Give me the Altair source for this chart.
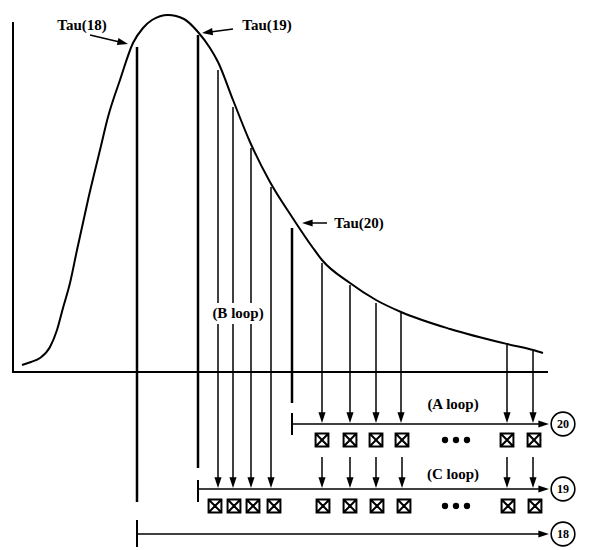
import math
import altair as alt
import pandas as pd

# ---- diagram data (coordinates of the drawing, y grows downward) ----
curve_x = [22, 31, 40, 50, 57, 63, 70, 77, 88, 100, 108, 120, 133, 143, 152, 168, 184,
           198, 210, 218, 233, 250, 270, 292, 313, 322, 350, 376, 401, 450, 507, 533, 543]
curve_y = [365, 362, 358, 347, 330, 308, 283, 250, 200, 150, 117, 80, 43, 28, 20, 15, 19,
           32, 48, 62, 100, 142, 182, 217, 248, 260, 283, 300, 312, 329, 344, 350, 353]

# plain strokes: x, y, x2, y2, width
line_x1 = [13, 13, 137, 198, 292, 137, 198, 292]
line_y1 = [22, 372, 47, 35, 228, 520, 480, 413]
line_x2 = [13, 548, 137, 198, 292, 137, 198, 292]
line_y2 = [373, 372, 502, 468, 403, 547, 502, 435]
line_w = [2, 2, 2.5, 2.5, 2.5, 2, 2, 2]

# arrows
b_loop_x = [218, 233, 251, 271]
b_loop_top = [70, 107, 148, 187]
a_loop_x = [322, 350, 376, 401, 507, 533]
a_loop_top = [263, 285, 303, 313, 345, 351]
c_loop_x = [322, 350, 376, 402, 507, 533]
level_y = [424, 489, 534]
level_start = [292, 198, 137]
level_names = ["20", "19", "18"]

tau_names = ["Tau(18)", "Tau(19)", "Tau(20)"]
tau_label_x = [82, 267, 359]
tau_label_y = [25, 25, 223]
tau_arrow = [(90, 35, 128, 44), (233, 29, 202, 33), (327, 223, 302, 223)]

loop_names = ["(B loop)", "(A loop)", "(C loop)"]
loop_x = [238, 453, 453]
loop_y = [313, 404, 474]

box_a_x = [322, 350, 376, 402, 507, 534]
box_c_x = [215, 234, 253, 274, 323, 350, 377, 404, 508, 535]
box_a_y = 440
box_c_y = 506
dot_x = [445, 456, 467]

# ---- build tables ----
arrows = []
for s in tau_arrow:
    arrows.append(s + (1.5,))
for x, t in zip(b_loop_x, b_loop_top):
    arrows.append((x, t, x, 488, 1.5))
for x, t in zip(a_loop_x, a_loop_top):
    arrows.append((x, t, x, 423, 1.5))
for x in c_loop_x:
    arrows.append((x, 457, x, 488, 1.5))
for y, s in zip(level_y, level_start):
    arrows.append((s, y, 549, y, 1.5))

HEAD = 140
head_len = 1.8 * math.sqrt(HEAD) / 2
seg_rows = [dict(x=a, y=b, x2=c, y2=d, w=w)
            for a, b, c, d, w in zip(line_x1, line_y1, line_x2, line_y2, line_w)]
head_rows = []
for x1, y1, x2, y2, w in arrows:
    dx, dy = x2 - x1, y2 - y1
    n = math.hypot(dx, dy)
    ex, ey = x2 - dx / n * head_len * 0.6, y2 - dy / n * head_len * 0.6
    seg_rows.append(dict(x=x1, y=y1, x2=ex, y2=ey, w=w))
    ang = math.degrees(math.atan2(-dx, dy)) % 360
    head_rows.append(dict(x=x2, y=y2, a=ang))

segs = pd.DataFrame(seg_rows)
heads = pd.DataFrame(head_rows)
curve = pd.DataFrame({"x": curve_x, "y": curve_y})
boxes = pd.DataFrame({"x": box_a_x + box_c_x,
                      "y": [box_a_y] * len(box_a_x) + [box_c_y] * len(box_c_x)})
dots = pd.DataFrame({"x": dot_x * 2, "y": [box_a_y] * 3 + [box_c_y] * 3})
circles = pd.DataFrame({"x": [563] * 3, "y": level_y, "t": level_names})
labels = pd.DataFrame({"x": tau_label_x + loop_x, "y": tau_label_y + loop_y,
                       "t": tau_names + loop_names})
mask = pd.DataFrame({"x": [211], "x2": [265], "y": [303], "y2": [324]})

XS = alt.Scale(domain=[8, 581], nice=False, zero=False)
YS = alt.Scale(domain=[8, 550], nice=False, zero=False, reverse=True)
X = alt.X("x:Q", scale=XS, axis=None)
Y = alt.Y("y:Q", scale=YS, axis=None)

curve_l = alt.Chart(curve).mark_line(interpolate="monotone", color="black",
                                     strokeWidth=2).encode(x=X, y=Y)
seg_l = alt.Chart(segs).mark_rule(color="black", strokeCap="butt").encode(
    x=X, y=Y, x2="x2:Q", y2="y2:Q",
    strokeWidth=alt.StrokeWidth("w:Q", scale=None))
mask_l = alt.Chart(mask).mark_rect(color="white").encode(x=X, y=Y, x2="x2:Q", y2="y2:Q")
head_l = alt.Chart(heads).mark_point(
    shape="M0,0L-0.6,-1.8L0.6,-1.8Z", filled=True, color="black", opacity=1,
    size=HEAD, strokeWidth=0).encode(x=X, y=Y, angle=alt.Angle("a:Q", scale=None))
box_l = alt.Chart(boxes).mark_point(
    shape="M-1,-1L1,-1L1,1L-1,1Z M-1,-1L1,1 M1,-1L-1,1", filled=False,
    color="black", opacity=1, size=165, strokeWidth=2).encode(x=X, y=Y)
dot_l = alt.Chart(dots).mark_circle(color="black", opacity=1, size=40).encode(x=X, y=Y)
circ_l = alt.Chart(circles).mark_point(shape="circle", filled=False, color="black",
                                       opacity=1, size=560, strokeWidth=1.6).encode(x=X, y=Y)
circ_t = alt.Chart(circles).mark_text(font="Liberation Serif", fontSize=12, fontWeight="bold",
                                      color="black", baseline="middle").encode(x=X, y=Y, text="t:N")
lab_l = alt.Chart(labels).mark_text(font="Liberation Serif", fontSize=15, fontWeight="bold",
                                    color="black", baseline="middle").encode(x=X, y=Y, text="t:N")

chart = alt.layer(curve_l, seg_l, mask_l, lab_l, head_l, box_l, dot_l, circ_l, circ_t).properties(
    width=573, height=542, padding=0, autosize="none", background="white"
).configure_view(strokeWidth=0)

chart.save("out.html", embed_options={"renderer": "svg", "actions": False})
